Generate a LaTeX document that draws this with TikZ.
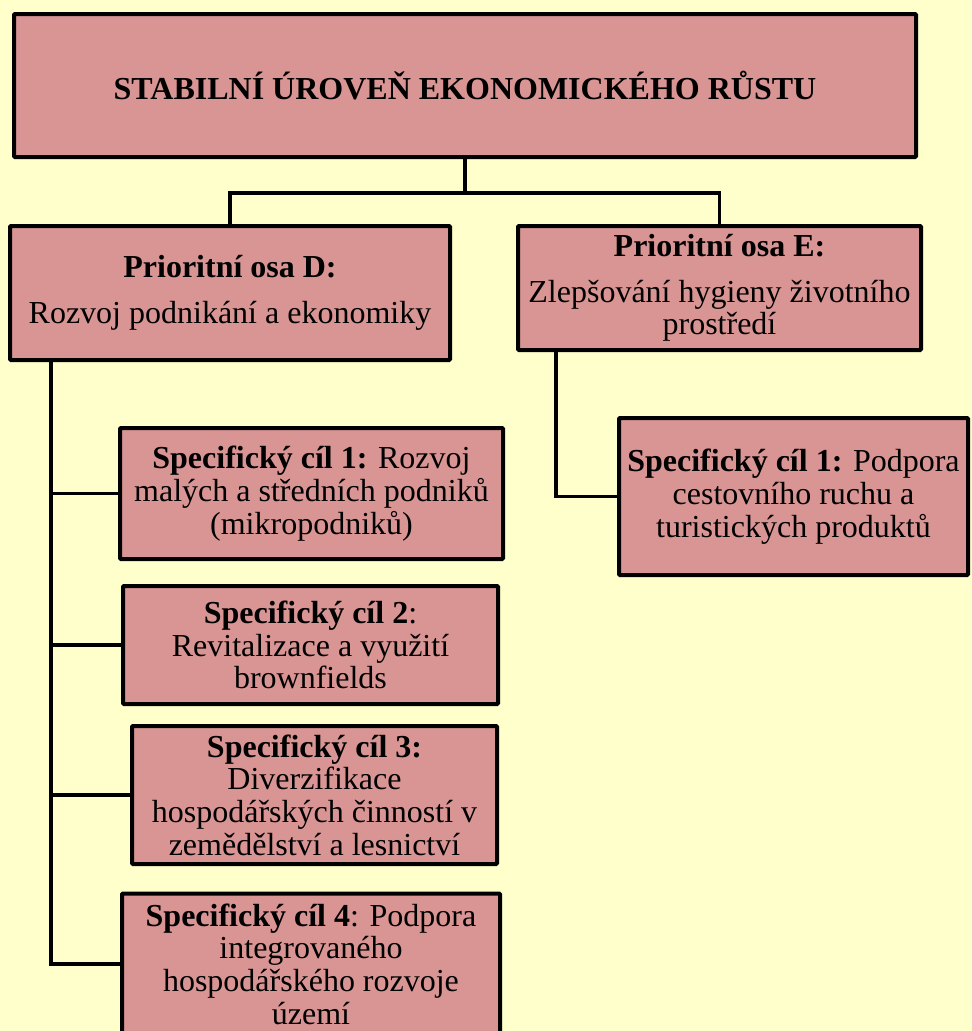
\documentclass[tikz,border=0pt]{standalone}
\usepackage{fontspec}
\setmainfont{Liberation Serif}
\definecolor{bgyellow}{HTML}{FFFFCC}
\definecolor{boxpink}{HTML}{D99594}
\tikzset{
  box/.style={draw=black, fill=boxpink, line width=4pt, rounded corners=1pt,
    align=center, inner sep=0pt, font=\fontsize{32}{32.7}\selectfont},
  conn/.style={draw=black, line width=3.5pt}
}
\begin{document}
\begin{tikzpicture}[x=1pt,y=-1pt]
\useasboundingbox (0,0) rectangle (972,1031);
\fill[bgyellow] (0,0) rectangle (972,1031);

\node[box, minimum width=902pt, minimum height=143pt, font=\fontsize{32}{36}\selectfont\bfseries] (top) at (465,85.5) {STABILNÍ ÚROVEŇ EKONOMICKÉHO RŮSTU};

\node[box, minimum width=440pt, minimum height=134pt] (D) at (230,293)
  {\textbf{Prioritní osa D:}\\[13pt] Rozvoj podnikání a ekonomiky};
\node[box, minimum width=403pt, minimum height=124pt] (E) at (719.5,288)
  {\textbf{Prioritní osa E:}\\[13pt] Zlepšování hygieny životního\\ prostředí};

\node[box, minimum width=349pt, minimum height=157pt] (SE1) at (793.5,496.5)
  {\textbf{Specifický cíl 1:} Podpora\\ cestovního ruchu a\\ turistických produktů};

\node[box, minimum width=383pt, minimum height=131pt] (S1) at (311.5,493.5)
  {\textbf{Specifický cíl 1:} Rozvoj\\ malých a středních podniků\\ (mikropodniků)};
\node[box, minimum width=375pt, minimum height=118pt] (S2) at (310.5,645)
  {\textbf{Specifický cíl 2}:\\ Revitalizace a využití\\ brownfields};
\node[box, minimum width=365pt, minimum height=138pt] (S3) at (314.5,795)
  {\textbf{Specifický cíl 3:}\\ Diverzifikace\\ hospodářských činností v\\ zemědělství a lesnictví};
\node[box, minimum width=378pt, minimum height=141pt] (S4) at (311,964)
  {\textbf{Specifický cíl 4}: Podpora\\ integrovaného\\ hospodářského rozvoje\\ území};

\draw[conn] (top.south) -- ++(0,34) coordinate (j);
\draw[conn] (j) -| (D.north);
\draw[conn] (j) -| (E.north);
\draw[conn] ([xshift=43pt]D.south west) |- (S1.west);
\draw[conn] ([xshift=43pt]D.south west) |- (S2.west);
\draw[conn] ([xshift=43pt]D.south west) |- (S3.west);
\draw[conn] ([xshift=43pt]D.south west) |- (S4.west);
\draw[conn] ([xshift=40pt]E.south west) |- (SE1.west);
\end{tikzpicture}
\end{document}
